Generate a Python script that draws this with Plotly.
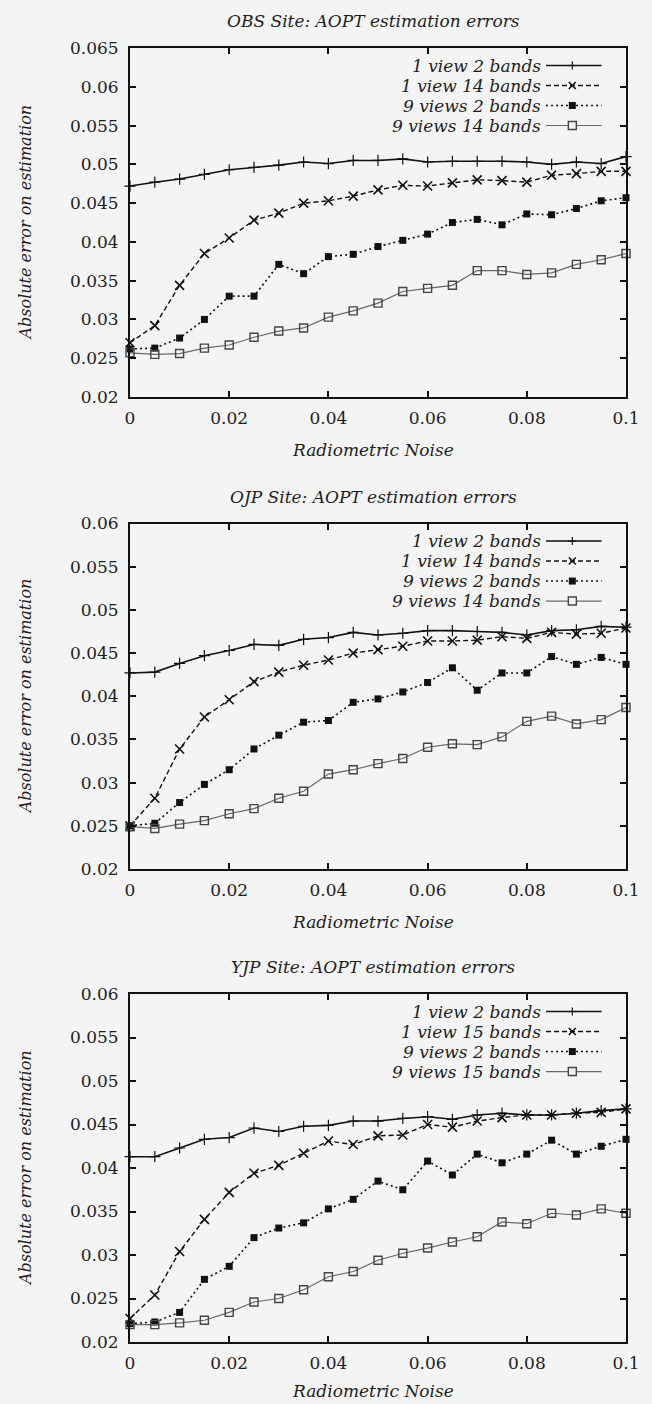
import plotly.graph_objects as go

# ---------------- data ----------------
noise = [0.0, 0.005, 0.01, 0.015, 0.02, 0.025, 0.03, 0.035, 0.04, 0.045, 0.05,
         0.055, 0.06, 0.065, 0.07, 0.075, 0.08, 0.085, 0.09, 0.095, 0.1]

obs_1v2b = [0.0472, 0.0477, 0.0481, 0.0487, 0.0493, 0.0496, 0.0499, 0.0503, 0.0501, 0.0505, 0.0505,
            0.0507, 0.0503, 0.0504, 0.0504, 0.0504, 0.0503, 0.0500, 0.0503, 0.0501, 0.0510]
obs_1v14b = [0.0270, 0.0292, 0.0344, 0.0385, 0.0405, 0.0428, 0.0437, 0.0450, 0.0453, 0.0459, 0.0467,
             0.0473, 0.0472, 0.0476, 0.0480, 0.0479, 0.0477, 0.0486, 0.0488, 0.0491, 0.0491]
obs_9v2b = [0.0262, 0.0263, 0.0276, 0.0300, 0.0330, 0.0330, 0.0371, 0.0359, 0.0381, 0.0384, 0.0394,
            0.0402, 0.0410, 0.0425, 0.0429, 0.0422, 0.0436, 0.0435, 0.0443, 0.0453, 0.0457]
obs_9v14b = [0.0257, 0.0255, 0.0256, 0.0263, 0.0267, 0.0277, 0.0285, 0.0289, 0.0303, 0.0311, 0.0321,
             0.0336, 0.0340, 0.0344, 0.0363, 0.0363, 0.0358, 0.0360, 0.0371, 0.0377, 0.0385]

ojp_1v2b = [0.0427, 0.0428, 0.0438, 0.0447, 0.0453, 0.0460, 0.0459, 0.0466, 0.0468, 0.0474, 0.0471,
            0.0473, 0.0476, 0.0476, 0.0475, 0.0474, 0.0471, 0.0476, 0.0477, 0.0481, 0.0480]
ojp_1v14b = [0.0250, 0.0282, 0.0339, 0.0376, 0.0396, 0.0417, 0.0428, 0.0436, 0.0442, 0.0450, 0.0454,
             0.0458, 0.0464, 0.0464, 0.0465, 0.0469, 0.0467, 0.0474, 0.0472, 0.0473, 0.0479]
ojp_9v2b = [0.0250, 0.0253, 0.0277, 0.0298, 0.0315, 0.0339, 0.0355, 0.0370, 0.0372, 0.0393, 0.0397,
            0.0405, 0.0416, 0.0433, 0.0407, 0.0427, 0.0427, 0.0446, 0.0437, 0.0445, 0.0437]
ojp_9v14b = [0.0249, 0.0247, 0.0252, 0.0256, 0.0264, 0.0270, 0.0282, 0.0290, 0.0310, 0.0315, 0.0322,
             0.0328, 0.0341, 0.0345, 0.0344, 0.0353, 0.0371, 0.0377, 0.0368, 0.0373, 0.0387]

yjp_1v2b = [0.0413, 0.0413, 0.0423, 0.0433, 0.0435, 0.0446, 0.0442, 0.0448, 0.0449, 0.0454, 0.0454,
            0.0457, 0.0459, 0.0456, 0.0461, 0.0463, 0.0461, 0.0461, 0.0463, 0.0466, 0.0468]
yjp_1v15b = [0.0227, 0.0254, 0.0304, 0.0341, 0.0372, 0.0394, 0.0403, 0.0417, 0.0431, 0.0427, 0.0437,
             0.0438, 0.0450, 0.0447, 0.0454, 0.0458, 0.0461, 0.0461, 0.0463, 0.0464, 0.0468]
yjp_9v2b = [0.0221, 0.0223, 0.0234, 0.0272, 0.0287, 0.0320, 0.0331, 0.0337, 0.0353, 0.0364, 0.0385,
            0.0375, 0.0408, 0.0392, 0.0416, 0.0406, 0.0416, 0.0432, 0.0416, 0.0425, 0.0433]
yjp_9v15b = [0.0220, 0.0220, 0.0222, 0.0225, 0.0234, 0.0246, 0.0250, 0.0260, 0.0275, 0.0281, 0.0294,
             0.0302, 0.0308, 0.0315, 0.0321, 0.0338, 0.0336, 0.0348, 0.0346, 0.0353, 0.0348]

titles = ["OBS Site: AOPT estimation errors",
          "OJP Site: AOPT estimation errors",
          "YJP Site: AOPT estimation errors"]
labels_14 = ["1 view 2 bands", "1 view 14 bands", "9 views 2 bands", "9 views 14 bands"]
labels_15 = ["1 view 2 bands", "1 view 15 bands", "9 views 2 bands", "9 views 15 bands"]

x_tickvals = [0, 0.02, 0.04, 0.06, 0.08, 0.1]
x_ticktext = ["0", "0.02", "0.04", "0.06", "0.08", "0.1"]
y_tickvals_obs = [0.02, 0.025, 0.03, 0.035, 0.04, 0.045, 0.05, 0.055, 0.06, 0.065]
y_ticktext_obs = ["0.02", "0.025", "0.03", "0.035", "0.04", "0.045", "0.05", "0.055", "0.06", "0.065"]
y_tickvals = [0.02, 0.025, 0.03, 0.035, 0.04, 0.045, 0.05, 0.055, 0.06]
y_ticktext = ["0.02", "0.025", "0.03", "0.035", "0.04", "0.045", "0.05", "0.055", "0.06"]

xlabel = "Radiometric Noise"
ylabel = "Absolute error on estimation"

# ---------------- styling ----------------
FONT = "DejaVu Serif"
TXT = "#1e1e1e"
BG = "#f4f4f4"
FS = 17

styles = [
    dict(line=dict(color="#111111", width=1.6, dash="solid"),
         marker=dict(symbol="cross-thin", size=8, line=dict(color="#111111", width=1.2))),
    dict(line=dict(color="#111111", width=1.4, dash="5px,3px"),
         marker=dict(symbol="x-thin", size=9, line=dict(color="#111111", width=1.6))),
    dict(line=dict(color="#111111", width=1.6, dash="2px,3px"),
         marker=dict(symbol="square", size=7, color="#111111")),
    dict(line=dict(color="#666666", width=1.2, dash="solid"),
         marker=dict(symbol="square-open", size=8, color="#444444", line=dict(width=1.4))),
]

panels = [
    (titles[0], [obs_1v2b, obs_1v14b, obs_9v2b, obs_9v14b], labels_14, [0.02, 0.065],
     y_tickvals_obs, y_ticktext_obs, [0.7303, 1.0], -53),
    (titles[1], [ojp_1v2b, ojp_1v14b, ojp_9v2b, ojp_9v14b], labels_14, [0.02, 0.06],
     y_tickvals, y_ticktext, [0.3655, 0.6325], -53),
    (titles[2], [yjp_1v2b, yjp_1v15b, yjp_9v2b, yjp_9v15b], labels_15, [0.02, 0.06],
     y_tickvals, y_ticktext, [0.0, 0.2689], -49),
]

fig = go.Figure()
layout = dict(
    width=652, height=1404,
    margin=dict(l=130, r=14, t=48, b=62),
    paper_bgcolor=BG, plot_bgcolor=BG,
    showlegend=False,
    font=dict(family=FONT, size=FS, color=TXT),
)
annotations = []
shapes = []

leg_rows = [17.5, 37.5, 57.5, 77.5]
leg_text_x = 0.832
leg_line = (0.8327, 0.9508)
leg_mark_x = 0.8918

for i, (title, series, labels, yr, ytv, ytt, dom, xl_shift) in enumerate(panels):
    k = "" if i == 0 else str(i + 1)
    xa, ya = "x" + k, "y" + k
    for s, lab, st in zip(series, labels, styles):
        fig.add_trace(go.Scatter(x=noise, y=s, mode="lines+markers", name=lab,
                                 xaxis=xa, yaxis=ya, cliponaxis=False,
                                 line=st["line"], marker=st["marker"]))
    axcommon = dict(showline=True, linecolor="#111111", linewidth=2, mirror="ticks",
                    ticks="inside", ticklen=6, tickwidth=1.5, tickcolor="#111111",
                    showgrid=False, zeroline=False,
                    tickfont=dict(family=FONT, size=FS, color=TXT))
    layout["xaxis" + k] = dict(axcommon, range=[0, 0.1], tickvals=x_tickvals, ticktext=x_ticktext,
                               anchor=ya, domain=[0, 1], ticklabelstandoff=5)
    layout["yaxis" + k] = dict(axcommon, range=yr, tickvals=ytv, ticktext=ytt,
                               anchor=xa, domain=dom, ticklabelstandoff=6)
    xd, yd = xa + " domain", ya + " domain"
    ph = (dom[1] - dom[0]) * 1294.0
    annotations.append(dict(text="<i>" + title + "</i>", xref=xd, yref=yd, x=0.49, y=1,
                            yshift=27, showarrow=False, xanchor="center", yanchor="middle",
                            font=dict(family=FONT, size=FS, color=TXT)))
    annotations.append(dict(text="<i>" + xlabel + "</i>", xref=xd, yref=yd, x=0.49, y=0,
                            yshift=xl_shift, showarrow=False, xanchor="center", yanchor="middle",
                            font=dict(family=FONT, size=FS, color=TXT)))
    annotations.append(dict(text="<i>" + ylabel + "</i>", xref=xd, yref=yd, x=0, y=0.5,
                            xshift=-105, showarrow=False, textangle=-90,
                            xanchor="center", yanchor="middle",
                            font=dict(family=FONT, size=FS - 1, color=TXT)))
    for j, (lab, st) in enumerate(zip(labels, styles)):
        yf = 1 - leg_rows[j] / ph
        annotations.append(dict(text="<i>" + lab + "</i>", xref=xd, yref=yd, x=leg_text_x, y=yf,
                                showarrow=False, xanchor="right", yanchor="middle",
                                font=dict(family=FONT, size=FS, color=TXT)))
        ln = st["line"]
        shapes.append(dict(type="line", xref=xd, yref=yd, x0=leg_line[0] + 0.006, x1=leg_line[1],
                           y0=yf, y1=yf, line=dict(color=ln["color"], width=ln["width"],
                                                    dash=ln["dash"])))
        base = dict(xref=xd, yref=yd, xsizemode="pixel", ysizemode="pixel",
                    xanchor=leg_mark_x, yanchor=yf)
        if j == 0:
            shapes.append(dict(base, type="line", x0=-4, x1=4, y0=0, y1=0,
                               line=dict(color="#111111", width=1.2)))
            shapes.append(dict(base, type="line", x0=0, x1=0, y0=-4, y1=4,
                               line=dict(color="#111111", width=1.2)))
        elif j == 1:
            shapes.append(dict(base, type="line", x0=-3.5, x1=3.5, y0=-3.5, y1=3.5,
                               line=dict(color="#111111", width=1.6)))
            shapes.append(dict(base, type="line", x0=-3.5, x1=3.5, y0=3.5, y1=-3.5,
                               line=dict(color="#111111", width=1.6)))
        elif j == 2:
            shapes.append(dict(base, type="rect", x0=-3.5, x1=3.5, y0=-3.5, y1=3.5,
                               fillcolor="#111111", line=dict(color="#111111", width=0)))
        else:
            shapes.append(dict(base, type="rect", x0=-4, x1=4, y0=-4, y1=4,
                               fillcolor=BG, line=dict(color="#444444", width=1.4)))

layout["annotations"] = annotations
layout["shapes"] = shapes
fig.update_layout(**layout)
fig.write_html("out.html")
